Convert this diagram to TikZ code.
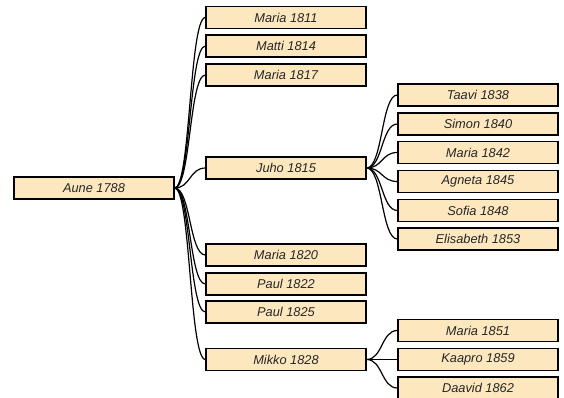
\documentclass[tikz,border=0pt]{standalone}
\usepackage{fontspec}
\setmainfont{Liberation Sans}
\usepackage{tikz}

\definecolor{boxfill}{RGB}{253,231,190}

\begin{document}
\begin{tikzpicture}[x=0.75pt,y=-0.75pt,thick]
\tikzstyle{person}=[rectangle,draw,fill=boxfill,line width=0.9pt,minimum width=120pt,minimum height=16.5pt,inner sep=0pt,text=black!85,font=\fontsize{9.6}{11}\selectfont\itshape]
\tikzstyle{link}=[line width=0.9pt]
\useasboundingbox (0,0) rectangle (564,398);
% root
\node[person] (aune) at (94,188) {Aune 1788};
% children
\node[person] (maria11) at (286,17.5) {Maria 1811};
\node[person] (matti) at (286,46) {Matti 1814};
\node[person] (maria17) at (286,75) {Maria 1817};
\node[person] (juho) at (286,168) {Juho 1815};
\node[person] (maria20) at (286,255) {Maria 1820};
\node[person] (paul22) at (286,284) {Paul 1822};
\node[person] (paul25) at (286,312) {Paul 1825};
\node[person] (mikko) at (286,359.5) {Mikko 1828};
% grandchildren of Juho
\node[person] (taavi) at (478,95) {Taavi 1838};
\node[person] (simon) at (478,124) {Simon 1840};
\node[person] (maria42) at (478,152.5) {Maria 1842};
\node[person] (agneta) at (478,181.5) {Agneta 1845};
\node[person] (sofia) at (478,210.5) {Sofia 1848};
\node[person] (elisabeth) at (478,239) {Elisabeth 1853};
% grandchildren of Mikko
\node[person] (maria51) at (478,330.5) {Maria 1851};
\node[person] (kaapro) at (478,359.5) {Kaapro 1859};
\node[person] (daavid) at (478,388) {Daavid 1862};
% connectors
\foreach \kid in {maria11,matti,maria17,juho,maria20,paul22,paul25,mikko}
  \draw[link] (aune.east) .. controls +(16,0) and +(-16,0) .. (\kid.west);
\foreach \kid in {taavi,simon,maria42,agneta,sofia,elisabeth}
  \draw[link] (juho.east) .. controls +(16,0) and +(-16,0) .. (\kid.west);
\foreach \kid in {maria51,kaapro,daavid}
  \draw[link] (mikko.east) .. controls +(16,0) and +(-16,0) .. (\kid.west);
\end{tikzpicture}
\end{document}
